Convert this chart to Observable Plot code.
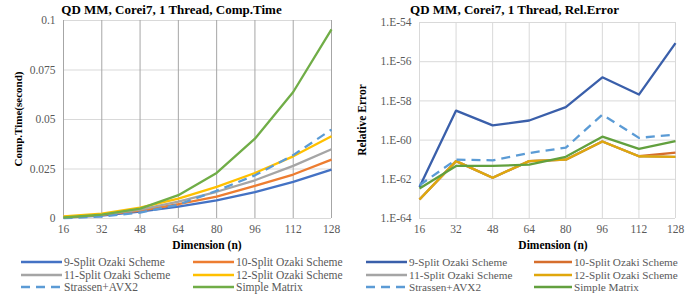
<!DOCTYPE html>
<html><head><meta charset="utf-8">
<script src="https://cdn.jsdelivr.net/npm/d3@7"></script>
<script src="https://cdn.jsdelivr.net/npm/@observablehq/plot@0.6"></script>
</head>
<body style="margin:0;background:#fff;font-family:'Liberation Serif'"><div id="wrap" style="position:relative;width:686px;height:302px;overflow:hidden;background:#fff;font-family:'Liberation Serif'"></div>
<script>
const dims = [16, 32, 48, 64, 80, 96, 112, 128];
const seriesNames = ["9-Split Ozaki Scheme","10-Split Ozaki Scheme","11-Split Ozaki Scheme","12-Split Ozaki Scheme","Strassen+AVX2","Simple Matrix"];
// Computation time (seconds)
const time9  = [0.0005, 0.0015, 0.0035, 0.0060, 0.0092, 0.0133, 0.0185, 0.0247];
const time10 = [0.0006, 0.0018, 0.0040, 0.0072, 0.0110, 0.0165, 0.0222, 0.0297];
const time11 = [0.0008, 0.0020, 0.0045, 0.0085, 0.0135, 0.0193, 0.0266, 0.0350];
const time12 = [0.0010, 0.0025, 0.0055, 0.0100, 0.0160, 0.0230, 0.0314, 0.0415];
const timeStrassen = [0.0002, 0.0010, 0.0030, 0.0070, 0.0140, 0.0218, 0.0320, 0.0449];
const timeSimple = [0.0005, 0.0020, 0.0050, 0.0118, 0.0230, 0.0403, 0.0639, 0.0955];
// Relative error
const err9  = [4.1e-63, 3.2e-59, 5.6e-60, 1.0e-59, 4.8e-59, 1.6e-57, 2.1e-58, 8.9e-56];
const err10 = [9.3e-64, 8.5e-62, 1.2e-62, 8.5e-62, 1.0e-61, 8.5e-61, 1.5e-61, 2.3e-61];
const err11 = [9.3e-64, 8.5e-62, 1.2e-62, 8.5e-62, 1.0e-61, 8.5e-61, 1.5e-61, 1.4e-61];
const err12 = [9.3e-64, 8.5e-62, 1.2e-62, 8.5e-62, 1.0e-61, 8.5e-61, 1.5e-61, 1.4e-61];
const errStrassen = [5.0e-63, 1.0e-61, 9.3e-62, 2.2e-61, 4.1e-61, 2.0e-59, 1.3e-60, 1.9e-60];
const errSimple = [3.4e-63, 4.8e-62, 4.8e-62, 5.6e-62, 1.4e-61, 1.5e-60, 3.6e-61, 8.9e-61];
const timeTicks = [0, 0.025, 0.05, 0.075, 0.1];
const timeTickLabels = ["0", "0.025", "0.05", "0.075", "0.1"];
const errTicks = [1e-64, 1e-62, 1e-60, 1e-58, 1e-56, 1e-54];
const errTickLabels = ["1.E-64", "1.E-62", "1.E-60", "1.E-58", "1.E-56", "1.E-54"];

const leftColors = ["#4472C4","#ED7D31","#A5A5A5","#FFC000","#5B9BD5","#70AD47"];
const rightColors = ["#3A5FAA","#D66E2C","#A5A5A5","#E0A70C","#5B9BD5","#62A03E"];
const dashed = [false,false,false,false,true,false];
const FONT = "Liberation Serif";

const wrap = document.getElementById("wrap");
function el(txt, css){
  const d=document.createElement("div");
  d.textContent=txt;
  d.setAttribute("style","position:absolute;white-space:nowrap;line-height:1;font-family:'Liberation Serif';"+css);
  wrap.appendChild(d); return d;
}

function toRows(arrs){
  const rows=[];
  arrs.forEach((a,i)=>a.forEach((v,j)=>rows.push({s:i,name:seriesNames[i],x:dims[j],y:v})));
  return rows;
}

function lineMarks(rows, colors){
  return seriesNames.map((n,i)=>Plot.line(rows.filter(r=>r.s===i),{x:"x",y:"y",stroke:colors[i],strokeWidth:2.3,strokeDasharray:dashed[i]?"9,6":null,strokeLinejoin:"round",strokeLinecap:"butt"}));
}
const axisFont = {fontFamily:FONT, fontSize:11.5, fill:"#595959"};

// Left chart
const leftRows = toRows([time9,time10,time11,time12,timeStrassen,timeSimple]);
const left = Plot.plot({
  width:343, height:250, marginLeft:63, marginRight:12, marginTop:20, marginBottom:32,
  style:{background:"transparent"},
  x:{type:"linear", domain:[16,128]},
  y:{domain:[0,0.1]},
  marks:[
    Plot.ruleY(timeTicks,{stroke:"#d9d9d9",strokeWidth:1}),
    Plot.ruleX(dims,{stroke:"#a6a6a6",strokeWidth:1}),
    Plot.axisX(dims,{tickSize:0, tickPadding:6, label:null, tickFormat:d=>String(d), ...axisFont}),
    Plot.axisY(timeTicks,{tickSize:0, tickPadding:8, label:null, tickFormat:d=>timeTickLabels[timeTicks.indexOf(d)], ...axisFont}),
    ...lineMarks(leftRows,leftColors)
  ]
});
left.style.position="absolute"; left.style.left="0px"; left.style.top="0px";
wrap.appendChild(left);

// Right chart
const rightRows = toRows([err9,err10,err11,err12,errStrassen,errSimple]);
const right = Plot.plot({
  width:343, height:250, marginLeft:76, marginRight:11, marginTop:22, marginBottom:32,
  style:{background:"transparent"},
  x:{type:"linear", domain:[16,128]},
  y:{type:"log", domain:[1e-64,1e-54]},
  marks:[
    Plot.ruleY(errTicks,{stroke:"#d9d9d9",strokeWidth:1}),
    Plot.ruleX(dims,{stroke:"#d9d9d9",strokeWidth:1}),
    Plot.axisX(dims,{tickSize:0, tickPadding:6, label:null, tickFormat:d=>String(d), ...axisFont}),
    Plot.axisY(errTicks,{tickSize:0, tickPadding:8, label:null, tickFormat:d=>errTickLabels[errTicks.findIndex(t=>Math.abs(Math.log10(t)-Math.log10(d))<0.01)], ...axisFont}),
    ...lineMarks(rightRows,rightColors)
  ]
});
right.style.position="absolute"; right.style.left="343px"; right.style.top="0px";
wrap.appendChild(right);

// Titles and axis labels
const titleCss="font-weight:bold;font-size:13px;color:#000;text-align:center;width:343px;top:3px;";
el("QD MM, Corei7, 1 Thread, Comp.Time", titleCss+"left:0px;");
el("QD MM, Corei7, 1 Thread, Rel.Error", titleCss+"left:343px;");
const xlabCss="font-weight:bold;font-size:11.5px;color:#000;transform:translateX(-50%);top:240px;";
el("Dimension (n)", xlabCss+"left:207px;");
el("Dimension (n)", xlabCss+"left:553px;");
const ylabCss="font-weight:bold;font-size:11px;color:#000;transform:translate(-50%,-50%) rotate(-90deg);";
el("Comp.Time(second)", ylabCss+"left:18px;top:119px;");
el("Relative Error", ylabCss+"left:363px;top:120px;font-size:11.5px;");

// Legends
function legend(x0, colors, fs){
  const cols=[[x0.a, x0.at],[x0.b, x0.bt]];
  const rowsY=[255,267.5,280];
  seriesNames.forEach((n,i)=>{
    const c=cols[i%2], r=rowsY[Math.floor(i/2)];
    const d=document.createElement("div");
    d.setAttribute("style",`position:absolute;white-space:nowrap;font-family:'Liberation Serif';font-size:${fs}px;color:#595959;display:flex;align-items:center;height:14px;left:${c[0]}px;top:${r}px;`);
    const w=c[1]-c[0]-2;
    d.innerHTML=`<svg width="${w}" height="6" style="margin-right:2px"><line x1="0" x2="${w}" y1="3" y2="3" stroke="${colors[i]}" stroke-width="2.3" ${dashed[i]?'stroke-dasharray="9,6"':''}/></svg><span>${n}</span>`;
    wrap.appendChild(d);
  });
}
legend({a:21,at:64,b:193,bt:236}, leftColors, 11.5);
legend({a:366,at:409,b:534,bt:574}, rightColors, 11.2);
</script></body></html>
